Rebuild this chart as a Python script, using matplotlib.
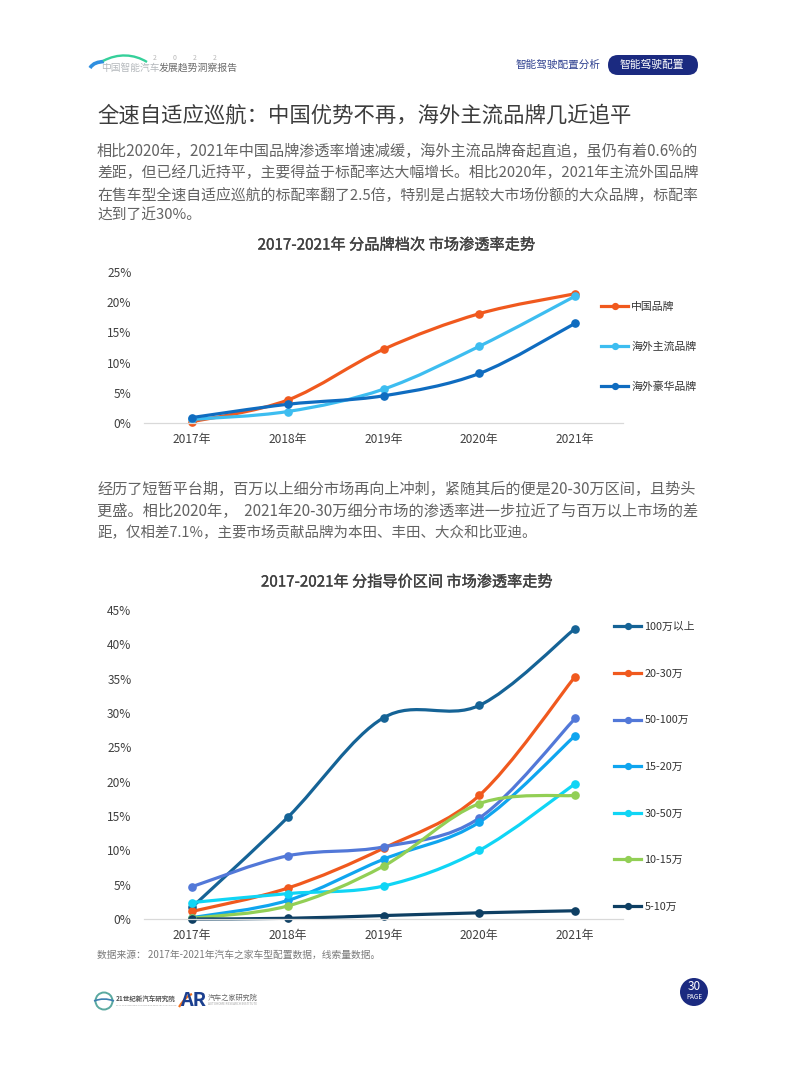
import matplotlib
matplotlib.use('Agg')
import numpy as np
import matplotlib.pyplot as plt
import matplotlib.patheffects as pe
from matplotlib.lines import Line2D
from matplotlib.patches import Circle, FancyBboxPatch, PathPatch
from matplotlib.path import Path

plt.rcParams['font.family'] = ['Noto Sans CJK SC', 'DejaVu Sans']

W, H = 793, 1077
GREY = '#636363'

years = ['2017年', '2018年', '2019年', '2020年', '2021年']

# chart 1
brand_names = ['中国品牌', '海外主流品牌', '海外豪华品牌']
brand_china = [0.2, 3.8, 12.2, 18.1, 21.4]
brand_main = [0.6, 1.9, 5.6, 12.7, 21.0]
brand_lux = [0.9, 3.1, 4.5, 8.2, 16.5]
brand_colors = ['#f0591e', '#3dbdf0', '#0f6cc0']

# chart 2
price_names = ['100万以上', '20-30万', '50-100万', '15-20万', '30-50万', '10-15万', '5-10万']
price_100 = [1.7, 14.8, 29.3, 31.1, 42.3]
price_20 = [1.1, 4.5, 10.3, 18.0, 35.3]
price_50 = [4.7, 9.2, 10.5, 14.7, 29.2]
price_15 = [0.2, 2.7, 8.7, 14.1, 26.7]
price_30 = [2.4, 3.7, 4.8, 10.0, 19.7]
price_10 = [0.1, 1.9, 7.7, 16.8, 18.0]
price_5 = [0.0, 0.1, 0.5, 0.9, 1.2]
price_colors = ['#156396', '#f0591e', '#5278d8', '#0fa5ef', '#10d5f5', '#92cf55', '#0e3f63']


def cn(s):
    # full width punctuation
    return s.replace(',', '\uff0c').replace(':', '\uff1a')


heading = cn('全速自适应巡航:中国优势不再,海外主流品牌几近追平')
para1 = [cn(s) for s in ['相比2020年,2021年中国品牌渗透率增速减缓,海外主流品牌奋起直追,虽仍有着0.6%的',
                         '差距,但已经几近持平,主要得益于标配率达大幅增长。相比2020年,2021年主流外国品牌',
                         '在售车型全速自适应巡航的标配率翻了2.5倍,特别是占据较大市场份额的大众品牌,标配率',
                         '达到了近30%。']]
para2 = [cn(s) for s in ['经历了短暂平台期,百万以上细分市场再向上冲刺,紧随其后的便是20-30万区间,且势头',
                         '更盛。相比2020年,  2021年20-30万细分市场的渗透率进一步拉近了与百万以上市场的差',
                         '距,仅相差7.1%,主要市场贡献品牌为本田、丰田、大众和比亚迪。']]
source = cn('数据来源: 2017年-2021年汽车之家车型配置数据,线索量数据。')

fig = plt.figure(figsize=(W / 100, H / 100), dpi=100, facecolor='white')

# page layer in pixel coordinates
page = fig.add_axes([0, 0, 1, 1])
page.set_xlim(0, W)
page.set_ylim(H, 0)
page.axis('off')


def fit_text(x, y, s, size, width=None, **kw):
    t = page.text(x, y, s, fontsize=size, va='center', **kw)
    if width:
        ext = t.get_window_extent(fig.canvas.get_renderer())
        t.set_fontsize(size * width / ext.width)
    return t


def smooth_path(xs, ys):
    # same kind of smoothing as an office chart: bezier through each point
    p = np.column_stack([xs, ys]).astype(float)
    verts = [p[0]]
    for i in range(len(p) - 1):
        before = p[max(i - 1, 0)]
        after = p[min(i + 2, len(p) - 1)]
        verts += [p[i] + (p[i + 1] - before) / 6, p[i + 1] - (after - p[i]) / 6, p[i + 1]]
    codes = [Path.MOVETO] + [Path.CURVE4] * (len(verts) - 1)
    return Path(verts, codes)


def line_chart(left, right, top, bottom, ymax, step, series, names, colors, leg_anchor, leg_space):
    ax = fig.add_axes([left / W, 1 - bottom / H, (right - left) / W, (bottom - top) / H])
    ax.patch.set_alpha(0)
    xs = np.arange(len(years))
    for vals, c in zip(series, colors):
        ax.add_patch(PathPatch(smooth_path(xs, vals), fill=False, ec=c, lw=2.3,
                               capstyle='round', clip_on=False))
        ax.plot(xs, vals, ls='none', marker='o', ms=5.2, color=c, clip_on=False)
    ax.set_xlim(-0.5, 4.5)
    ax.set_ylim(0, ymax)
    ax.set_xticks(xs, years)
    ax.set_yticks(np.arange(0, ymax + 1, step))
    ax.set_yticklabels([f'{v}%' for v in np.arange(0, ymax + 1, step)])
    ax.tick_params(length=0, labelsize=8.6, labelcolor='#404040')
    ax.tick_params(axis='x', pad=7)
    ax.tick_params(axis='y', pad=9)
    for s in ['top', 'right', 'left']:
        ax.spines[s].set_visible(False)
    ax.spines['bottom'].set_color('#d9d9d9')
    ax.spines['bottom'].set_linewidth(0.9)
    handles = [Line2D([], [], color=c, lw=2.3, marker='o', ms=4.2) for c in colors]
    ax.legend(handles[:len(names)], names, loc='upper left', bbox_to_anchor=leg_anchor,
              bbox_transform=fig.transFigure, frameon=False, fontsize=7.8,
              labelspacing=leg_space, handlelength=2.5, handletextpad=0.3,
              borderpad=0, borderaxespad=0, labelcolor='#333333')
    return ax


# header
page.add_patch(PathPatch(Path([(90, 68), (93, 63), (98, 62), (104, 61.5)],
                              [Path.MOVETO, Path.CURVE4, Path.CURVE4, Path.CURVE4]),
                         fill=False, ec='#2f8fe0', lw=2.6))
page.add_patch(PathPatch(Path([(103, 61), (118, 53), (134, 54), (147, 62)],
                              [Path.MOVETO, Path.CURVE4, Path.CURVE4, Path.CURVE4]),
                         fill=False, ec='#35d09a', lw=1.7))
fit_text(101, 68, '中国智能汽车', 7.5, width=58, color='#b4b8bc')
fit_text(159, 68, '发展趋势洞察报告', 7.5, width=79, color='#6a6a6a')
for x, ch in zip([155, 175, 195, 215], '2022'):
    page.text(x, 58, ch, fontsize=5, color='#b8b8b8', ha='center', va='center')
fit_text(516, 65, '智能驾驶配置分析', 8, width=85, color='#2d3f8f')
page.add_patch(FancyBboxPatch((608, 55), 90, 20, boxstyle='round,pad=0,rounding_size=10',
                              fc='#1b2a80', ec='none'))
fit_text(620, 65, '智能驾驶配置', 8, width=65, color='white')

# heading and paragraphs
fit_text(97, 115, heading, 15.4, width=533, color='#3c3c3c')
para1_y = [151, 173, 195, 216]
for s, y, w in zip(para1, para1_y, [601, 601, 601, 104]):
    fit_text(97, y, s, 10.8, width=w, color=GREY)
para2_y = [489, 511, 533]
for s, y, w in zip(para2, para2_y, [601, 601, 440]):
    fit_text(97, y, s, 10.8, width=w, color=GREY)

# chart titles
heavy = [pe.withStroke(linewidth=0.25, foreground='#404040')]
fit_text(396.5, 245, '2017-2021年 分品牌档次 市场渗透率走势', 11, width=277, color='#404040',
         ha='center', path_effects=heavy)
fit_text(406.5, 582, '2017-2021年 分指导价区间 市场渗透率走势', 11, width=291, color='#404040',
         ha='center', path_effects=heavy)

line_chart(144, 623, 272, 423, 25, 5, [brand_china, brand_main, brand_lux], brand_names,
           brand_colors, (601 / W, 1 - 302 / H), 2.72)
line_chart(144, 623, 610, 919, 45, 5,
           [price_100, price_20, price_50, price_15, price_30, price_10, price_5],
           price_names, price_colors, (614 / W, 1 - 622 / H), 3.38)

# source and footer
fit_text(97, 955, source, 6.8, width=285, color='#7a7a7a')
page.add_patch(Circle((104, 1001), 8.5, fc='none', ec='#5aa9a0', lw=1.4))
page.add_patch(PathPatch(Path([(94, 1001), (104, 997), (114, 1001)],
                              [Path.MOVETO, Path.CURVE3, Path.CURVE3]),
                         fill=False, ec='#3b7fb0', lw=1.2))
fit_text(116, 999, '21世纪新汽车研究院', 6, width=60, color='#555555', fontweight='bold')
fit_text(116, 1005, '21ST CENTURY NEW AUTOMOBILE RESEARCH INSTITUTE', 2, width=60, color='#999999')
fit_text(180, 1000, 'AR', 12, width=26, color='#1b3f8f', fontweight='bold')
page.add_patch(PathPatch(Path([(179, 1007), (186, 996), (192, 994)],
                              [Path.MOVETO, Path.CURVE3, Path.CURVE3]),
                         fill=False, ec='#f0701e', lw=1.6))
fit_text(208, 998, '汽车之家研究院', 6, width=50, color='#666666')
fit_text(208, 1004, 'AUTOHOME RESEARCH INSTITUTE', 2, width=50, color='#a5a5a5')
page.add_patch(Circle((694, 992), 14, fc='#1b2a80', ec='none'))
page.text(694, 987, '30', fontsize=8.5, color='white', ha='center', va='center')
page.text(694, 997, 'PAGE', fontsize=4.6, color='white', ha='center', va='center')

fig.savefig('out.png', dpi=100)
